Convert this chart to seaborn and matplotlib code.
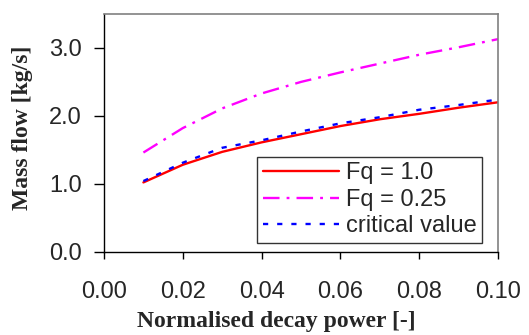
import pandas as pd
import seaborn as sns
from matplotlib import pyplot as plt

# decay power (normalised) and mass flows
decay_power = [0.01, 0.02, 0.03, 0.04, 0.05, 0.06, 0.07, 0.08, 0.09, 0.10]
flow_fq_1 = [1.02, 1.28, 1.47, 1.61, 1.73, 1.85, 1.95, 2.03, 2.12, 2.20]
flow_fq_025 = [1.46, 1.82, 2.11, 2.33, 2.50, 2.64, 2.77, 2.90, 3.01, 3.13]
flow_critical = [1.04, 1.31, 1.53, 1.64, 1.77, 1.89, 1.98, 2.09, 2.16, 2.24]

series_names = ["Fq = 1.0", "Fq = 0.25", "critical value"]
x_ticks = [0.00, 0.02, 0.04, 0.06, 0.08, 0.10]
y_ticks = [0.0, 1.0, 2.0, 3.0]

df = pd.DataFrame({
    "power": decay_power * 3,
    "flow": flow_fq_1 + flow_fq_025 + flow_critical,
    "case": sum([[n] * len(decay_power) for n in series_names], []),
})

sns.set_style("white")
plt.rcParams["font.family"] = ["Liberation Sans", "DejaVu Sans"]

fig = plt.figure(figsize=(5.29, 3.35), dpi=100)
ax = fig.add_axes([0.1966, 0.2487, 0.7448, 0.7095])

sns.lineplot(
    data=df, x="power", y="flow", hue="case", style="case",
    hue_order=series_names, style_order=series_names,
    palette=["#ff0000", "#ff00ff", "#0000ff"],
    dashes=[(None, None), (7, 3, 1.2, 3), (2.2, 3.8)],
    linewidth=1.7, ax=ax,
)

ax.set_xlim(0, 0.10)
ax.set_ylim(0, 3.5)
ax.set_xticks(x_ticks)
ax.set_yticks(y_ticks)
ax.set_xticklabels([f"{v:.2f}" for v in x_ticks], fontsize=17)
ax.set_yticklabels([f"{v:.1f}" for v in y_ticks], fontsize=17)
ax.tick_params(axis="x", direction="out", length=5, width=1, color="black", pad=16, bottom=True)
ax.tick_params(axis="y", direction="out", length=7, width=1, color="black", pad=9, left=True)

for side in ["top", "right"]:
    ax.spines[side].set_color("#808080")
    ax.spines[side].set_linewidth(1.2)
for side in ["left", "bottom"]:
    ax.spines[side].set_color("black")
    ax.spines[side].set_linewidth(1.0)

ax.set_xlabel("Normalised decay power [-]", fontsize=17, fontweight="bold",
              family="Liberation Serif")
ax.set_ylabel("Mass flow [kg/s]", fontsize=17, fontweight="bold",
              family="Liberation Serif")
ax.xaxis.set_label_coords(0.437, -0.25)
ax.yaxis.set_label_coords(-0.18, 0.52)

leg = ax.legend(loc="lower right", bbox_to_anchor=(0.96, 0.035), fontsize=17,
                frameon=True, fancybox=False, edgecolor="black",
                handlelength=3.2, handletextpad=0.3, borderpad=0.25,
                labelspacing=0.19, borderaxespad=0)
leg.get_frame().set_linewidth(1.0)

fig.savefig("out.png", dpi=100)
